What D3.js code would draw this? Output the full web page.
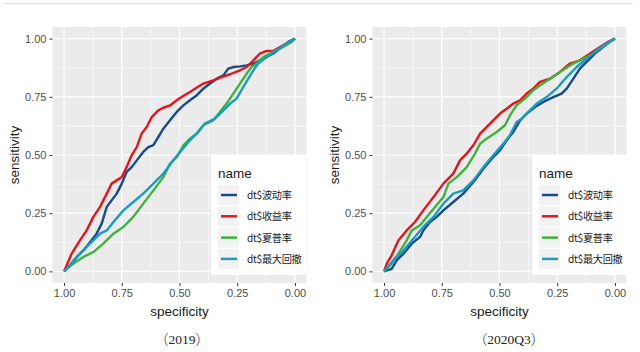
<!DOCTYPE html>
<html><head><meta charset="utf-8">
<script src="https://cdn.jsdelivr.net/npm/d3@7"></script>
<style>body{margin:0;background:#fff}svg{display:block}</style>
</head><body>
<svg id="c" width="640" height="352"></svg>
<script>
// series names and colours
const seriesNames = ["dt$波动率", "dt$收益率", "dt$夏普率", "dt$最大回撤"];
const seriesColors = ["#164a8c", "#e3141c", "#3db33c", "#1a9cc2"];
const tickValues = [1.00, 0.75, 0.50, 0.25, 0.00];
const panelTitles = ["2019", "2020Q3"];

// ROC points [specificity, sensitivity] — 2019
const vol2019 = [[1,0],[0.981,0.019],[0.945,0.062],[0.916,0.090],[0.887,0.126],[0.859,0.162],[0.837,0.205],[0.815,0.277],[0.794,0.305],[0.772,0.334],[0.750,0.377],[0.729,0.427],[0.707,0.448],[0.685,0.477],[0.657,0.513],[0.635,0.534],[0.613,0.542],[0.592,0.577],[0.570,0.613],[0.541,0.649],[0.512,0.685],[0.483,0.713],[0.455,0.735],[0.426,0.756],[0.397,0.785],[0.368,0.807],[0.339,0.828],[0.310,0.842],[0.289,0.871],[0.267,0.878],[0.238,0.881],[0.209,0.885],[0.180,0.893],[0.137,0.914],[0.094,0.936],[0.058,0.964],[0.029,0.986],[0,1]];
const ret2019 = [[1,0],[0.967,0.076],[0.931,0.133],[0.902,0.176],[0.873,0.234],[0.844,0.277],[0.815,0.334],[0.794,0.377],[0.772,0.391],[0.750,0.405],[0.729,0.448],[0.707,0.499],[0.685,0.534],[0.664,0.592],[0.642,0.620],[0.620,0.663],[0.592,0.692],[0.570,0.703],[0.541,0.713],[0.512,0.735],[0.491,0.749],[0.455,0.771],[0.426,0.789],[0.397,0.807],[0.354,0.821],[0.317,0.835],[0.281,0.847],[0.238,0.864],[0.209,0.878],[0.180,0.907],[0.152,0.936],[0.123,0.947],[0.094,0.947],[0.065,0.964],[0.022,0.986],[0,1]];
const sharpe2019 = [[1,0],[0.960,0.033],[0.916,0.062],[0.873,0.083],[0.830,0.119],[0.786,0.162],[0.743,0.191],[0.700,0.234],[0.657,0.291],[0.613,0.348],[0.570,0.405],[0.541,0.463],[0.512,0.491],[0.483,0.542],[0.455,0.570],[0.426,0.592],[0.397,0.628],[0.354,0.649],[0.325,0.685],[0.296,0.721],[0.267,0.764],[0.238,0.807],[0.209,0.850],[0.188,0.878],[0.166,0.893],[0.137,0.921],[0.094,0.943],[0.051,0.964],[0.014,0.986],[0,1]];
const mdd2019 = [[1,0],[0.967,0.033],[0.931,0.076],[0.902,0.105],[0.873,0.133],[0.844,0.162],[0.815,0.176],[0.786,0.212],[0.743,0.262],[0.700,0.298],[0.657,0.334],[0.613,0.377],[0.570,0.420],[0.527,0.477],[0.491,0.520],[0.455,0.563],[0.418,0.599],[0.390,0.635],[0.346,0.656],[0.310,0.692],[0.281,0.721],[0.253,0.742],[0.224,0.792],[0.202,0.828],[0.180,0.864],[0.159,0.893],[0.123,0.921],[0.079,0.950],[0.036,0.979],[0,1]];

// ROC points — 2020Q3
const vol2020 = [[1,0],[0.967,0.011],[0.945,0.047],[0.916,0.076],[0.880,0.119],[0.844,0.148],[0.830,0.176],[0.801,0.212],[0.772,0.234],[0.743,0.262],[0.700,0.298],[0.657,0.334],[0.613,0.384],[0.570,0.441],[0.527,0.491],[0.498,0.520],[0.469,0.563],[0.440,0.599],[0.411,0.649],[0.382,0.678],[0.346,0.706],[0.310,0.728],[0.267,0.749],[0.231,0.764],[0.209,0.785],[0.180,0.828],[0.152,0.871],[0.123,0.900],[0.087,0.936],[0.051,0.964],[0.014,0.993],[0,1]];
const ret2020 = [[1,0],[0.988,0.033],[0.967,0.069],[0.938,0.133],[0.902,0.176],[0.866,0.212],[0.830,0.262],[0.786,0.319],[0.743,0.377],[0.700,0.420],[0.671,0.477],[0.642,0.506],[0.613,0.542],[0.584,0.592],[0.556,0.620],[0.527,0.649],[0.498,0.678],[0.469,0.699],[0.440,0.721],[0.411,0.735],[0.382,0.764],[0.354,0.785],[0.325,0.814],[0.281,0.828],[0.238,0.857],[0.195,0.893],[0.152,0.907],[0.108,0.936],[0.065,0.964],[0.029,0.986],[0,1]];
const sharpe2020 = [[1,0],[0.967,0.033],[0.938,0.076],[0.902,0.133],[0.880,0.176],[0.844,0.198],[0.815,0.234],[0.779,0.277],[0.743,0.319],[0.721,0.377],[0.685,0.405],[0.642,0.448],[0.606,0.506],[0.584,0.549],[0.556,0.570],[0.512,0.599],[0.476,0.628],[0.455,0.670],[0.426,0.713],[0.390,0.742],[0.354,0.778],[0.325,0.799],[0.281,0.828],[0.238,0.857],[0.195,0.885],[0.152,0.907],[0.108,0.928],[0.065,0.957],[0.022,0.986],[0,1]];
const mdd2020 = [[1,0],[0.960,0.047],[0.916,0.090],[0.873,0.140],[0.830,0.191],[0.786,0.234],[0.743,0.291],[0.700,0.334],[0.657,0.348],[0.613,0.391],[0.570,0.448],[0.527,0.499],[0.483,0.549],[0.455,0.585],[0.426,0.642],[0.404,0.656],[0.375,0.685],[0.339,0.721],[0.296,0.749],[0.253,0.785],[0.209,0.835],[0.166,0.878],[0.123,0.914],[0.079,0.950],[0.036,0.979],[0,1]];

const panels = [
  {ox: 0, title: panelTitles[0], series: [vol2019, ret2019, sharpe2019, mdd2019]},
  {ox: 320, title: panelTitles[1], series: [vol2020, ret2020, sharpe2020, mdd2020]}
];

const svg = d3.select("#c");
// thin top rule
svg.append("line").attr("x1",3).attr("x2",633).attr("y1",3.5).attr("y2",3.5).attr("stroke","#e2e2e2").attr("stroke-width",1);

const sansFont = "Arial, 'Liberation Sans', sans-serif";

panels.forEach(p => {
  const g = svg.append("g").attr("transform", `translate(${p.ox},0)`);
  const L = 52.5, R = 306.5, T = 27, B = 283;
  const x = d3.scaleLinear().domain([1.05, -0.05]).range([L, R]);
  const y = d3.scaleLinear().domain([-0.05, 1.05]).range([B, T]);

  g.append("rect").attr("x",L).attr("y",T).attr("width",R-L).attr("height",B-T).attr("fill","#ebebeb");
  const minor = [0.875,0.625,0.375,0.125];
  g.selectAll(".vmin").data(minor).join("line").attr("x1",d=>x(d)).attr("x2",d=>x(d)).attr("y1",T).attr("y2",B).attr("stroke","#fff").attr("stroke-width",0.6);
  g.selectAll(".hmin").data(minor).join("line").attr("y1",d=>y(d)).attr("y2",d=>y(d)).attr("x1",L).attr("x2",R).attr("stroke","#fff").attr("stroke-width",0.6);
  g.selectAll(".vmaj").data(tickValues).join("line").attr("x1",d=>x(d)).attr("x2",d=>x(d)).attr("y1",T).attr("y2",B).attr("stroke","#fff").attr("stroke-width",1.2);
  g.selectAll(".hmaj").data(tickValues).join("line").attr("y1",d=>y(d)).attr("y2",d=>y(d)).attr("x1",L).attr("x2",R).attr("stroke","#fff").attr("stroke-width",1.2);

  const line = d3.line().x(d=>x(d[0])).y(d=>y(d[1]));
  p.series.forEach((s,i) => {
    g.append("path").datum(s).attr("d", line).attr("fill","none")
      .attr("stroke", seriesColors[i]).attr("stroke-width",2.4).attr("stroke-linejoin","round");
  });

  // axes
  const xa = g.append("g").attr("transform",`translate(0,${B})`)
    .call(d3.axisBottom(x).tickValues(tickValues).tickFormat(d3.format(".2f")).tickSize(3).tickPadding(3));
  const ya = g.append("g").attr("transform",`translate(${L},0)`)
    .call(d3.axisLeft(y).tickValues(tickValues).tickFormat(d3.format(".2f")).tickSize(3).tickPadding(3));
  [xa,ya].forEach(a=>{
    a.select(".domain").remove();
    a.selectAll(".tick line").attr("stroke","#333").attr("stroke-width",1);
    a.selectAll(".tick text").attr("fill","#4d4d4d").style("font-family",sansFont).style("font-size","11px");
  });

  g.append("text").attr("x",(L+R)/2).attr("y",316).attr("text-anchor","middle")
    .style("font-family",sansFont).style("font-size","13.5px").attr("fill","#1a1a1a").text("specificity");
  g.append("text").attr("transform",`translate(19,${(T+B)/2}) rotate(-90)`).attr("text-anchor","middle")
    .style("font-family",sansFont).style("font-size","13.5px").attr("fill","#1a1a1a").text("sensitivity");
  const cap = g.append("text").attr("x",p.ox===0?182:189).attr("y",344).attr("text-anchor","middle")
    .style("font-size","13.5px").attr("fill","#222");
  cap.append("tspan").style("font-family","'Noto Sans CJK SC',sans-serif").style("font-weight","300").text("（");
  cap.append("tspan").style("font-family","'Liberation Serif',serif").text(p.title);
  cap.append("tspan").style("font-family","'Noto Sans CJK SC',sans-serif").style("font-weight","300").text("）");

  // legend
  const lg = g.append("g").attr("transform",`translate(${p.ox===0?211:212},155)`);
  lg.append("rect").attr("width",95).attr("height",120).attr("fill","#fff");
  lg.append("text").attr("x",7).attr("y",23).style("font-family",sansFont).style("font-size","13.5px").attr("fill","#1a1a1a").text("name");
  seriesNames.forEach((n,i)=>{
    const cy = 40 + i*21.3;
    lg.append("rect").attr("x",7).attr("y",cy-10).attr("width",21).attr("height",20).attr("fill","#f2f2f2");
    lg.append("line").attr("x1",10).attr("x2",26).attr("y1",cy).attr("y2",cy).attr("stroke",seriesColors[i]).attr("stroke-width",2.5);
    lg.append("text").attr("x",36).attr("y",cy+4).style("font-family","'Noto Sans CJK SC',sans-serif").style("font-size","10.2px").style("letter-spacing","-0.3px").attr("fill","#1a1a1a").text(n);
  });
});
</script>
</body></html>
